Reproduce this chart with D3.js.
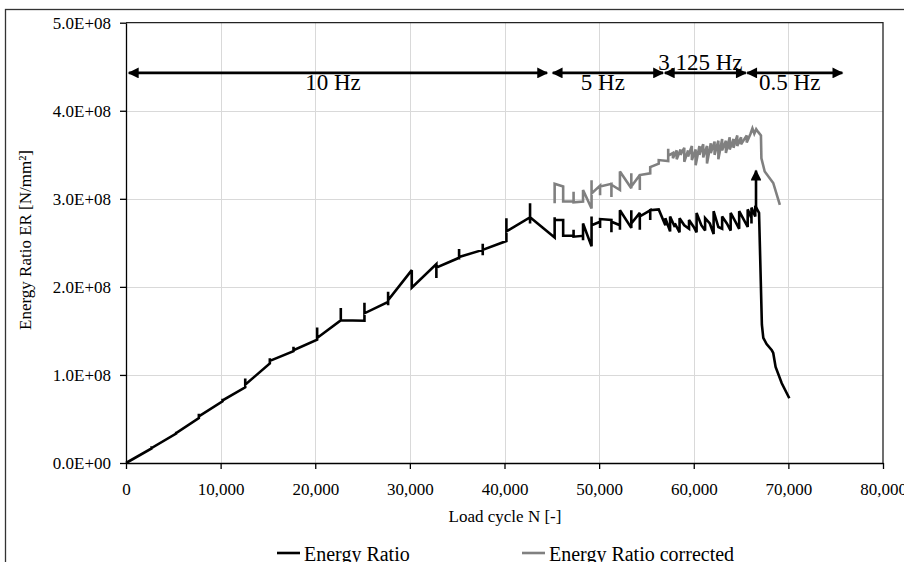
<!DOCTYPE html>
<html><head><meta charset="utf-8">
<script src="https://cdn.jsdelivr.net/npm/d3@7"></script>
<style>
body{margin:0;background:#fff}
svg{display:block}
text{font-family:"Liberation Serif","Times New Roman",serif;fill:#000}
</style>
</head><body>
<svg id="chart" width="904" height="562"></svg>
<script>
// ---- data ----
const xTicks = [0,10000,20000,30000,40000,50000,60000,70000,80000];
const yTicks = [0,1e8,2e8,3e8,4e8,5e8];
const seriesNames = ["Energy Ratio","Energy Ratio corrected"];

const energyRatio = [
[0,0],
[2700,0.165e8],[2700,0.19e8],[2700,0.17e8],
[5300,0.335e8],[5300,0.355e8],[5300,0.34e8],
[7700,0.51e8],[7700,0.56e8],[7700,0.53e8],
[10200,0.70e8],[10200,0.73e8],[10200,0.71e8],
[12600,0.86e8],[12600,0.96e8],[12600,0.89e8],
[15200,1.13e8],[15200,1.19e8],[15200,1.16e8],
[17700,1.27e8],[17700,1.32e8],[17700,1.28e8],
[20200,1.40e8],[20200,1.54e8],[20200,1.42e8],
[22700,1.62e8],[22700,1.76e8],[22700,1.62e8],
[25200,1.615e8],[25200,1.82e8],[25200,1.70e8],
[27700,1.83e8],[27700,1.945e8],[27700,1.79e8],[27700,1.85e8],
[30200,2.19e8],[30200,1.99e8],
[32800,2.26e8],[32800,2.10e8],[32800,2.22e8],
[35200,2.33e8],[35200,2.43e8],[35200,2.31e8],[35200,2.34e8],
[37700,2.42e8],[37700,2.49e8],[37700,2.36e8],[37700,2.42e8],
[40200,2.52e8],[40200,2.78e8],[40200,2.63e8],
[42700,2.79e8],[42700,2.95e8],[42700,2.72e8],[42700,2.79e8],
[45300,2.56e8],[45300,2.79e8],[45300,2.76e8],
[46200,2.76e8],[46200,2.58e8],
[47300,2.58e8],[47300,2.65e8],[47300,2.57e8],
[48300,2.58e8],[48300,2.53e8],[48300,2.72e8],
[49200,2.46e8],[49200,2.80e8],[49200,2.70e8],
[50100,2.74e8],[50100,2.67e8],[50100,2.77e8],
[51300,2.76e8],[51300,2.62e8],[51300,2.74e8],
[52200,2.70e8],[52200,2.65e8],[52200,2.87e8],
[53400,2.67e8],[53400,2.87e8],[53400,2.72e8],
[54300,2.84e8],[54300,2.65e8],[54300,2.80e8],
[55400,2.87e8],[55400,2.76e8],[55400,2.87e8],
[56300,2.88e8],
[57000,2.70e8],[57000,2.78e8],
[57500,2.63e8],[57500,2.80e8],
[58000,2.68e8],[58000,2.72e8],
[58500,2.62e8],[58500,2.78e8],
[59000,2.70e8],
[59500,2.66e8],[59500,2.76e8],
[60000,2.68e8],
[60300,2.62e8],[60300,2.84e8],
[60800,2.70e8],
[61200,2.64e8],[61200,2.78e8],
[61700,2.72e8],
[62100,2.60e8],[62100,2.86e8],
[62600,2.68e8],
[63000,2.66e8],[63000,2.80e8],
[63500,2.72e8],
[63900,2.64e8],[63900,2.84e8],
[64400,2.74e8],
[64800,2.66e8],[64800,2.86e8],
[65300,2.76e8],
[65700,2.68e8],[65700,2.88e8],
[66100,2.78e8],[66100,2.72e8],[66100,2.90e8],
[66500,2.80e8],[66500,2.92e8],
[66900,2.84e8],
[67000,2.42e8],
[67200,1.57e8],
[67350,1.42e8],
[67700,1.35e8],
[68250,1.28e8],
[68400,1.25e8],
[68650,1.09e8],
[69300,0.905e8],
[70100,0.735e8]
];

const energyRatioCorrected = [
[45300,2.95e8],[45300,3.17e8],[46200,3.14e8],[46200,2.97e8],
[47300,2.97e8],[47300,3.08e8],[47300,2.96e8],[48300,2.97e8],[48300,3.10e8],
[49200,2.89e8],[49200,3.21e8],[49200,3.06e8],
[50100,3.15e8],[50100,3.04e8],[50100,3.14e8],
[51300,3.17e8],[51300,3.02e8],[51300,3.16e8],
[52200,3.10e8],[52200,3.31e8],[53400,3.12e8],[53400,3.29e8],[53400,3.14e8],
[54300,3.27e8],[54300,3.10e8],[54300,3.27e8],
[55400,3.29e8],[55400,3.36e8],[56300,3.40e8],[56300,3.44e8],
[57300,3.43e8],[57300,3.57e8],[57300,3.49e8],
[57800,3.52e8],[57800,3.46e8],[58200,3.55e8],[58200,3.45e8],
[58600,3.56e8],[58600,3.50e8],[59000,3.58e8],[59000,3.42e8],
[59400,3.55e8],[59400,3.48e8],[59800,3.60e8],[59800,3.44e8],
[60200,3.56e8],[60200,3.38e8],[60600,3.60e8],[60600,3.50e8],
[61000,3.62e8],[61000,3.47e8],[61400,3.60e8],[61400,3.40e8],
[61800,3.63e8],[61800,3.52e8],[62200,3.65e8],[62200,3.50e8],
[62600,3.66e8],[62600,3.45e8],[63000,3.68e8],[63000,3.55e8],
[63400,3.66e8],[63400,3.52e8],[63800,3.70e8],[63800,3.56e8],
[64200,3.68e8],[64200,3.58e8],[64600,3.72e8],[64600,3.60e8],
[65000,3.70e8],[65000,3.62e8],[65600,3.72e8],[65600,3.64e8],
[66000,3.74e8],[66200,3.80e8],[66400,3.74e8],[66600,3.79e8],
[66800,3.76e8],[67100,3.72e8],[67150,3.46e8],[67500,3.31e8],
[68400,3.18e8],[69100,2.93e8]
];

// frequency ranges (horizontal double arrows)
const freqLabels = ["10 Hz","5 Hz","3,125 Hz","0.5 Hz"];
const freqStart  = [300, 45100, 56950, 65650];
const freqEnd    = [44500, 56750, 65500, 75700];
const freqLevel  = 4.43e8;
// failure marker (vertical arrow)
const failureN = 66580;
const failureFrom = 2.86e8;
const failureTo = 3.32e8;

// ---- layout ----
const svg = d3.select("#chart");
const L = 126, R = 883, T = 22.7, B = 463;
const x = d3.scaleLinear().domain([0,80000]).range([L,R]);
const y = d3.scaleLinear().domain([0,5e8]).range([B,T]);

const fmtY = d => {
  if (d === 0) return "0.0E+00";
  const e = Math.floor(Math.log10(Math.abs(d)));
  const m = d / Math.pow(10,e);
  return m.toFixed(1) + "E+" + String(e).padStart(2,"0");
};

// outer frame
svg.append("rect").attr("x",5.5).attr("y",9.5).attr("width",920).attr("height",600)
  .attr("fill","none").attr("stroke","#333").attr("stroke-width",1.3);

// gridlines
const grid = svg.append("g");
grid.selectAll("line.v").data(xTicks.slice(1,-1)).join("line")
  .attr("x1",d=>Math.round(x(d))+0.5).attr("x2",d=>Math.round(x(d))+0.5)
  .attr("y1",T).attr("y2",B).attr("stroke","#d9d9d9").attr("stroke-width",1);
grid.selectAll("line.h").data(yTicks.slice(1,-1)).join("line")
  .attr("y1",d=>Math.round(y(d))+0.5).attr("y2",d=>Math.round(y(d))+0.5)
  .attr("x1",L).attr("x2",R).attr("stroke","#d9d9d9").attr("stroke-width",1);

// plot border (top & right)
svg.append("path").attr("d",`M${L},${T}H${R}V${B}`).attr("fill","none")
  .attr("stroke","#222").attr("stroke-width",1.3);

// axes
const xAxis = svg.append("g").attr("transform",`translate(0,${B})`)
  .call(d3.axisBottom(x).tickValues(xTicks).tickFormat(d3.format(",")).tickSizeInner(6).tickSizeOuter(0).tickPadding(14));
const yAxis = svg.append("g").attr("transform",`translate(${L},0)`)
  .call(d3.axisLeft(y).tickValues(yTicks).tickFormat(fmtY).tickSizeInner(6).tickSizeOuter(0).tickPadding(9));
[xAxis,yAxis].forEach(a=>{
  a.select(".domain").attr("stroke","#000").attr("stroke-width",1.3);
  a.selectAll(".tick line").attr("stroke","#000").attr("stroke-width",1.3);
  a.selectAll(".tick text").style("font-family",'"Liberation Serif","Times New Roman",serif')
    .style("font-size","17px").attr("fill","#000");
});

// axis titles
svg.append("text").attr("x",505).attr("y",522).attr("text-anchor","middle")
  .style("font-size","17px").text("Load cycle N [-]");
svg.append("text").attr("transform","translate(31,240) rotate(-90)").attr("text-anchor","middle")
  .style("font-size","17px").text("Energy Ratio ER [N/mm²]");

// series
const line = d3.line().x(d=>x(d[0])).y(d=>y(d[1]));
const plot = svg.append("g");
plot.append("path").datum(energyRatioCorrected).attr("d",line)
  .attr("fill","none").attr("stroke","#808080").attr("stroke-width",2.6).attr("stroke-linejoin","miter").attr("stroke-miterlimit",3);
plot.append("path").datum(energyRatio).attr("d",line)
  .attr("fill","none").attr("stroke","#000").attr("stroke-width",2.6).attr("stroke-linejoin","miter").attr("stroke-miterlimit",3);

// arrow markers
const defs = svg.append("defs");
defs.append("marker").attr("id","ah").attr("viewBox","0 0 10 10").attr("refX",9).attr("refY",5)
  .attr("markerWidth",4.6).attr("markerHeight",4.2).attr("markerUnits","strokeWidth").attr("orient","auto-start-reverse")
  .append("path").attr("d","M0,0L10,5L0,10Z").attr("fill","#000");

// frequency arrows
const fy = y(freqLevel);
freqLabels.forEach((lab,i)=>{
  svg.append("line").attr("x1",x(freqStart[i])).attr("x2",x(freqEnd[i]))
    .attr("y1",fy).attr("y2",fy).attr("stroke","#000").attr("stroke-width",2.6)
    .attr("marker-start","url(#ah)").attr("marker-end","url(#ah)");
  const cx = (x(freqStart[i])+x(freqEnd[i]))/2 - 5;
  const above = lab === "3,125 Hz";
  svg.append("text").attr("x",cx).attr("y", above ? fy-3 : fy+17.5)
    .attr("text-anchor","middle").style("font-size","23px").text(lab);
});

// failure arrow
svg.append("line").attr("x1",x(failureN)).attr("x2",x(failureN))
  .attr("y1",y(failureFrom)).attr("y2",y(failureTo)).attr("stroke","#000").attr("stroke-width",2.6)
  .attr("marker-end","url(#ah)");

// legend
const legX = [277, 522];
const legColors = ["#000","#808080"];
seriesNames.forEach((n,i)=>{
  svg.append("line").attr("x1",legX[i]).attr("x2",legX[i]+23).attr("y1",553).attr("y2",553)
    .attr("stroke",legColors[i]).attr("stroke-width",2.6);
  svg.append("text").attr("x",legX[i]+27).attr("y",561).style("font-size","20px").text(n);
});
</script>
</body></html>
